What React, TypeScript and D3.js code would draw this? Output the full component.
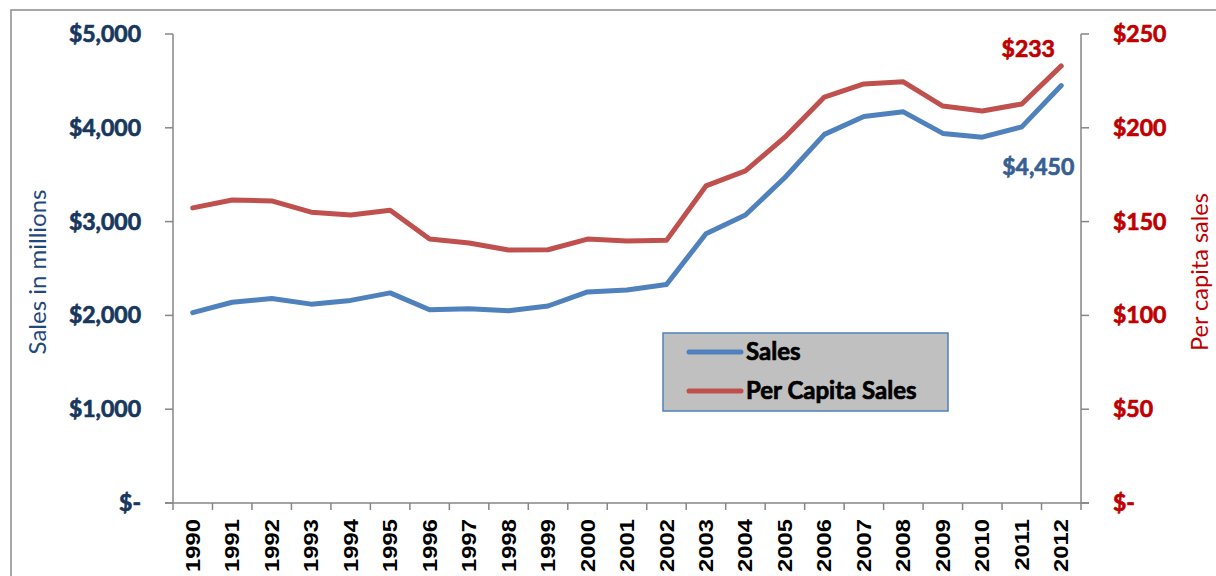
import React from "react";
import * as d3 from "d3";

const years = ["1990","1991","1992","1993","1994","1995","1996","1997","1998","1999","2000","2001","2002","2003","2004","2005","2006","2007","2008","2009","2010","2011","2012"];
const sales = [2030,2140,2180,2120,2160,2240,2060,2070,2050,2100,2250,2270,2330,2870,3070,3470,3930,4120,4170,3940,3900,4010,4450];
const perCapita = [157.3,161.5,161,155,153.5,156,140.7,138.6,134.9,135,140.7,139.7,140,169,177,195,216.4,223.4,224.5,211.6,209,212.7,233];
const leftTicks = [0,1000,2000,3000,4000,5000];
const rightTicks = [0,50,100,150,200,250];

const W = 1216, H = 576;
const X0 = 173, X1 = 1081, Y0 = 503, Y1 = 34;
const BLUE = "#4F81BD", RED = "#C0504D", AXIS = "#868686";
const CAL = "Lato, 'Open Sans', sans-serif";
const BW = 700;
const SW = 0.7;

export default function App() {
  const x = d3.scaleBand<string>().domain(years).range([X0, X1]);
  const yL = d3.scaleLinear().domain([0, 5000]).range([Y0, Y1]);
  const yR = d3.scaleLinear().domain([0, 250]).range([Y0, Y1]);
  const cx = (y: string) => (x(y) as number) + x.bandwidth() / 2;
  const lineL = d3.line<number>().x((_, i) => cx(years[i])).y(d => yL(d));
  const lineR = d3.line<number>().x((_, i) => cx(years[i])).y(d => yR(d));
  const fmtL = (v: number) => (v === 0 ? "$-" : "$" + d3.format(",")(v));
  const fmtR = (v: number) => (v === 0 ? "$-" : "$" + v);
  const last = years.length - 1;

  return (
    <svg width={W} height={H} style={{ position: "absolute", left: 0, top: 0, background: "#fff" }}>
      <rect x={11} y={10} width={W + 20} height={H + 20} fill="#fff" stroke="#8c8c8c" strokeWidth={1.5} />
      {/* axes */}
      <line x1={X0} x2={X0} y1={Y1} y2={Y0} stroke={AXIS} strokeWidth={1.5} />
      <line x1={X1} x2={X1} y1={Y1} y2={Y0} stroke={AXIS} strokeWidth={1.5} />
      <line x1={X0 - 8} x2={X1 + 8} y1={Y0} y2={Y0} stroke={AXIS} strokeWidth={1.5} />
      {leftTicks.map(t => (
        <g key={"l" + t}>
          <line x1={X0 - 8} x2={X0} y1={yL(t)} y2={yL(t)} stroke={AXIS} strokeWidth={1.5} />
          <text x={141} y={yL(t)} dy="0.35em" textAnchor="end" fontFamily={CAL} fontWeight={BW} fontSize={23} fill="#17375E" stroke="#17375E" strokeWidth={SW}>{fmtL(t)}</text>
        </g>
      ))}
      {rightTicks.map(t => (
        <g key={"r" + t}>
          <line x1={X1} x2={X1 + 8} y1={yR(t)} y2={yR(t)} stroke={AXIS} strokeWidth={1.5} />
          <text x={1113} y={yR(t)} dy="0.35em" textAnchor="start" fontFamily={CAL} fontWeight={BW} fontSize={23} fill="#C00000" stroke="#C00000" strokeWidth={SW}>{fmtR(t)}</text>
        </g>
      ))}
      {years.map((yr, i) => (
        <g key={yr}>
          <line x1={(x(yr) as number)} x2={(x(yr) as number)} y1={Y0} y2={Y0 + 7} stroke={AXIS} strokeWidth={1.5} />
          {i === last && <line x1={X1} x2={X1} y1={Y0} y2={Y0 + 7} stroke={AXIS} strokeWidth={1.5} />}
          <text transform={`translate(${cx(yr)},519) rotate(-90) scale(1.22,1)`} dy="0.36em" textAnchor="end" fontFamily="'Liberation Sans', Arial, sans-serif" fontWeight="bold" fontSize={19.5} fill="#000">{yr}</text>
        </g>
      ))}
      {/* axis titles */}
      <text transform="translate(38,272) rotate(-90)" dy="0.35em" textAnchor="middle" fontFamily={CAL} fontSize={24} fill="#1F497D">Sales in millions</text>
      <text transform="translate(1200,272) rotate(-90)" dy="0.35em" textAnchor="middle" fontFamily={CAL} fontSize={23.5} fill="#C00000">Per capita sales</text>
      {/* lines */}
      <path d={lineL(sales) as string} fill="none" stroke={BLUE} strokeWidth={5} strokeLinejoin="round" strokeLinecap="round" />
      <path d={lineR(perCapita) as string} fill="none" stroke={RED} strokeWidth={5} strokeLinejoin="round" strokeLinecap="round" />
      {/* data labels */}
      <text x={cx(years[last]) - 33} y={yR(perCapita[last]) - 9} textAnchor="middle" fontFamily={CAL} fontWeight={BW} fontSize={23} fill="#C00000" stroke="#C00000" strokeWidth={SW}>{"$" + perCapita[last]}</text>
      <text x={cx(years[last]) - 23} y={yL(sales[last]) + 89} textAnchor="middle" fontFamily={CAL} fontWeight={BW} fontSize={23} fill="#376092" stroke="#376092" strokeWidth={SW}>{"$" + d3.format(",")(sales[last])}</text>
      {/* legend */}
      <rect x={663} y={333} width={285} height={78} fill="#C0C0C0" stroke="#4F81BD" strokeWidth={1.5} />
      <line x1={689} x2={741} y1={352} y2={352} stroke={BLUE} strokeWidth={5} strokeLinecap="round" />
      <text x={746} y={352} dy="0.35em" fontFamily={CAL} fontWeight={BW} fontSize={24} fill="#000" stroke="#000" strokeWidth={SW}>Sales</text>
      <line x1={689} x2={741} y1={391} y2={391} stroke={RED} strokeWidth={5} strokeLinecap="round" />
      <text x={746} y={391} dy="0.35em" fontFamily={CAL} fontWeight={BW} fontSize={24} fill="#000" stroke="#000" strokeWidth={SW}>Per Capita Sales</text>
    </svg>
  );
}
